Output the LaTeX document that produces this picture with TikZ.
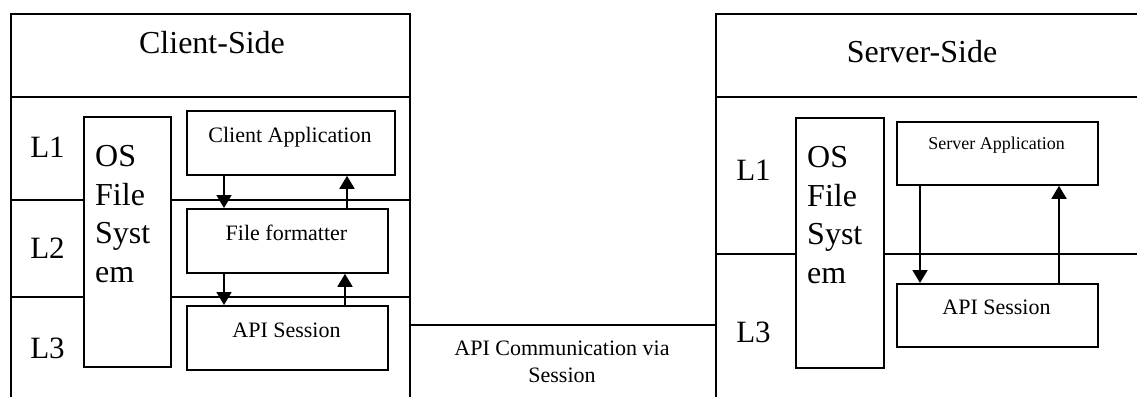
\documentclass[tikz,border=0pt]{standalone}
\usepackage{fontspec}
\setmainfont{Liberation Serif}
\usetikzlibrary{arrows.meta}
\begin{document}
\begin{tikzpicture}[x=1pt,y=-1pt,
  frame/.style={draw,line width=1.8pt,inner sep=0pt,anchor=north west},
  box/.style={draw,fill=white,line width=1.8pt,inner sep=0pt,anchor=north west},
  big/.style={font=\fontsize{32}{38.5}\selectfont,inner sep=0pt,anchor=base},
  lay/.style={font=\fontsize{31}{36}\selectfont,inner sep=0pt,anchor=base},
  ostext/.style={font=\fontsize{32}{38.5}\selectfont,inner sep=0pt,anchor=base west,align=left},
  small/.style={font=\fontsize{22}{27}\selectfont,inner sep=0pt,anchor=base},
  tiny/.style={font=\fontsize{18}{22}\selectfont,inner sep=0pt,anchor=base},
  flow/.style={line width=1.8pt,-{Triangle[width=15pt,length=13pt]}},
  sep/.style={line width=1.8pt}]
\useasboundingbox (0,0) rectangle (1137,396);
\clip (0,0) rectangle (1137,396);
% outer frames
\node[frame,minimum width=399pt,minimum height=420pt] (client) at (10,13) {};
\node[frame,minimum width=450pt,minimum height=420pt] (server) at (715,13) {};
% header and layer dividers
\draw[sep] (10,97) -- (409,97);
\draw[sep] (10,200) -- (409,200);
\draw[sep] (10,297) -- (409,297);
\draw[sep] (715,97) -- (1140,97);
\draw[sep] (715,254) -- (1140,254);
% communication link
\coordinate (cl) at (409,325);
\coordinate (sl) at (715,325);
\draw[sep] (cl) -- (sl);
\node[small,align=center] (comm) at (562,382) {API Communication via\\Session};
% titles
\node[big] (ctitle) at (212,54) {Client-Side};
\node[big] (stitle) at (922,63) {Server-Side};
% layer labels
\node[lay] (cl1) at (47.5,157) {L1};
\node[lay] (cl2) at (47.5,258) {L2};
\node[lay] (cl3) at (47.5,358) {L3};
\node[lay] (sl1) at (753.5,180) {L1};
\node[lay] (sl3) at (753.5,342) {L3};
% client boxes
\node[box,minimum width=87pt,minimum height=250pt] (cos) at (83,116) {};
\node[ostext] (costext) at (95,282) {OS\\File\\Syst\\em};
\node[box,minimum width=208pt,minimum height=64pt] (ca) at (186,110) {};
\node[small] (catext) at (290,142) {Client Application};
\node[box,minimum width=201pt,minimum height=64pt] (ff) at (186,208) {};
\node[small] (fftext) at (286.5,240) {File formatter};
\node[box,minimum width=201pt,minimum height=64pt] (capi) at (186,305) {};
\node[small] (capitext) at (286.5,337) {API Session};
% server boxes
\node[box,minimum width=88pt,minimum height=250pt] (sos) at (795,117) {};
\node[ostext] (sostext) at (807,283) {OS\\File\\Syst\\em};
\node[box,minimum width=201pt,minimum height=63pt] (sa) at (896,121) {};
\node[tiny] (satext) at (996.5,149) {Server Application};
\node[box,minimum width=201pt,minimum height=63pt] (sapi) at (896,283) {};
\node[small] (sapitext) at (996.5,314) {API Session};
% client arrows
\draw[flow] ([xshift=38pt]ca.south west) -- ([xshift=38pt]ff.north west);
\draw[flow] ([xshift=161pt]ff.north west) -- ([xshift=161pt]ca.south west);
\draw[flow] ([xshift=38pt]ff.south west) -- ([xshift=38pt]capi.north west);
\draw[flow] ([xshift=159pt]capi.north west) -- ([xshift=159pt]ff.south west);
% server arrows
\draw[flow] ([xshift=24pt]sa.south west) -- ([xshift=24pt]sapi.north west);
\draw[flow] ([xshift=163pt]sapi.north west) -- ([xshift=163pt]sa.south west);
\end{tikzpicture}
\end{document}
